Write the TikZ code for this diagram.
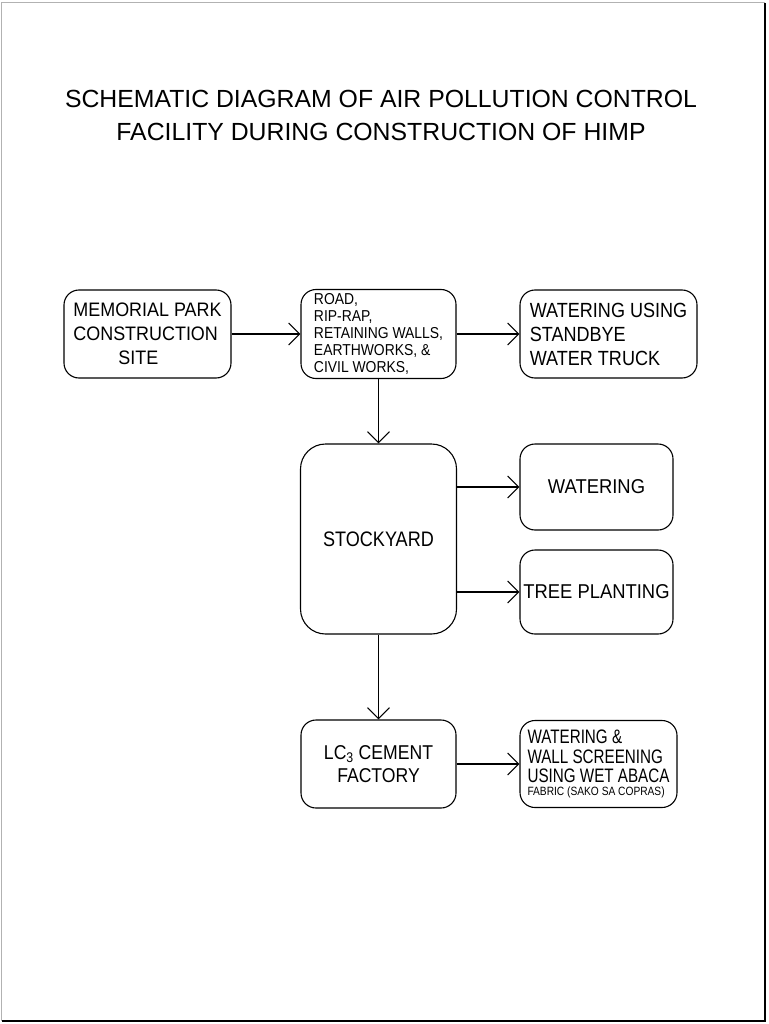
\documentclass[tikz,border=0pt]{standalone}
\usepackage{fontspec}
\setmainfont{Liberation Sans}
\newfontfamily\fA[FakeStretch=1.0]{Liberation Sans}
\newfontfamily\fB[FakeStretch=0.92]{Liberation Sans}
\newfontfamily\fC[FakeStretch=0.88]{Liberation Sans}
\newfontfamily\fD[FakeStretch=0.86]{Liberation Sans}
\newfontfamily\fE[FakeStretch=0.78]{Liberation Sans}
\newfontfamily\fF[FakeStretch=0.85]{Liberation Sans}
\usetikzlibrary{arrows.meta}
\begin{document}
\begin{tikzpicture}[x=1pt,y=-1pt,
  box/.style={draw, line width=1.1pt, rounded corners=15pt, inner sep=0pt, align=left},
  conn/.style={line width=1.1pt, -{Straight Barb[length=11pt,width=22pt,line width=1.1pt]}}]
\useasboundingbox (0,0) rectangle (768,1024);
% page frame
\draw[gray!60, line width=1pt] (1.5,1021) -- (1.5,3) -- (765,3);
\draw[black, line width=1.3pt] (765,3) -- (765,1021) -- (1.5,1021);
% title
\node[anchor=north, inner sep=0pt, align=center, font={\fA\fontsize{24.8}{33}\selectfont}] (title) at (381,89.5)
  {SCHEMATIC DIAGRAM OF AIR POLLUTION CONTROL\\FACILITY DURING CONSTRUCTION OF HIMP};
% boxes
\node[box, minimum width=167pt, minimum height=88pt, font={\fB\fontsize{19.5}{24}\selectfont}] (mem) at (147.5,334)
  {MEMORIAL PARK\\CONSTRUCTION\\\hspace*{45pt}SITE};
\node[box, minimum width=155pt, minimum height=89pt, font={\fC\fontsize{15.8}{16.8}\selectfont}] (road) at (378.5,334)
  {ROAD,\\RIP-RAP,\\RETAINING WALLS,\\EARTHWORKS, \&\\CIVIL WORKS,};
\node[box, minimum width=177pt, minimum height=88pt, font={\fC\fontsize{20.5}{24}\selectfont}] (wtruck) at (608.5,334)
  {WATERING USING\\STANDBYE\\WATER TRUCK};
\node[box, rounded corners=25pt, minimum width=156pt, minimum height=190pt, font={\fD\fontsize{21}{24}\selectfont}] (stock) at (378.5,539)
  {STOCKYARD};
\node[box, minimum width=153pt, minimum height=86pt, font={\fB\fontsize{20}{24}\selectfont}] (wat) at (596.5,487)
  {WATERING};
\node[box, minimum width=153pt, minimum height=84pt, font={\fB\fontsize{20}{24}\selectfont}] (tree) at (596.5,592)
  {TREE PLANTING};
\node[box, align=center, minimum width=155pt, minimum height=88pt, font={\fC\fontsize{20}{23}\selectfont}] (lc) at (378.5,764)
  {LC\textsubscript{3} CEMENT\\FACTORY};
\node[box, minimum width=157pt, minimum height=87pt, font={\fE\fontsize{19.5}{19.5}\selectfont}] (wall) at (598.5,764)
  {WATERING \&\\WALL SCREENING\\USING WET ABACA\\[-7pt]{\fF\fontsize{12}{12}\selectfont FABRIC (SAKO SA COPRAS)}};
% connectors
\draw[conn] (mem.east) -- (road.west);
\draw[conn] (road.east) -- (wtruck.west);
\draw[conn] (road.south) -- (stock.north);
\draw[conn] (stock.east |- wat.west) -- (wat.west);
\draw[conn] (stock.east |- tree.west) -- (tree.west);
\draw[conn] (stock.south) -- (lc.north);
\draw[conn] (lc.east) -- (wall.west);
\end{tikzpicture}
\end{document}
